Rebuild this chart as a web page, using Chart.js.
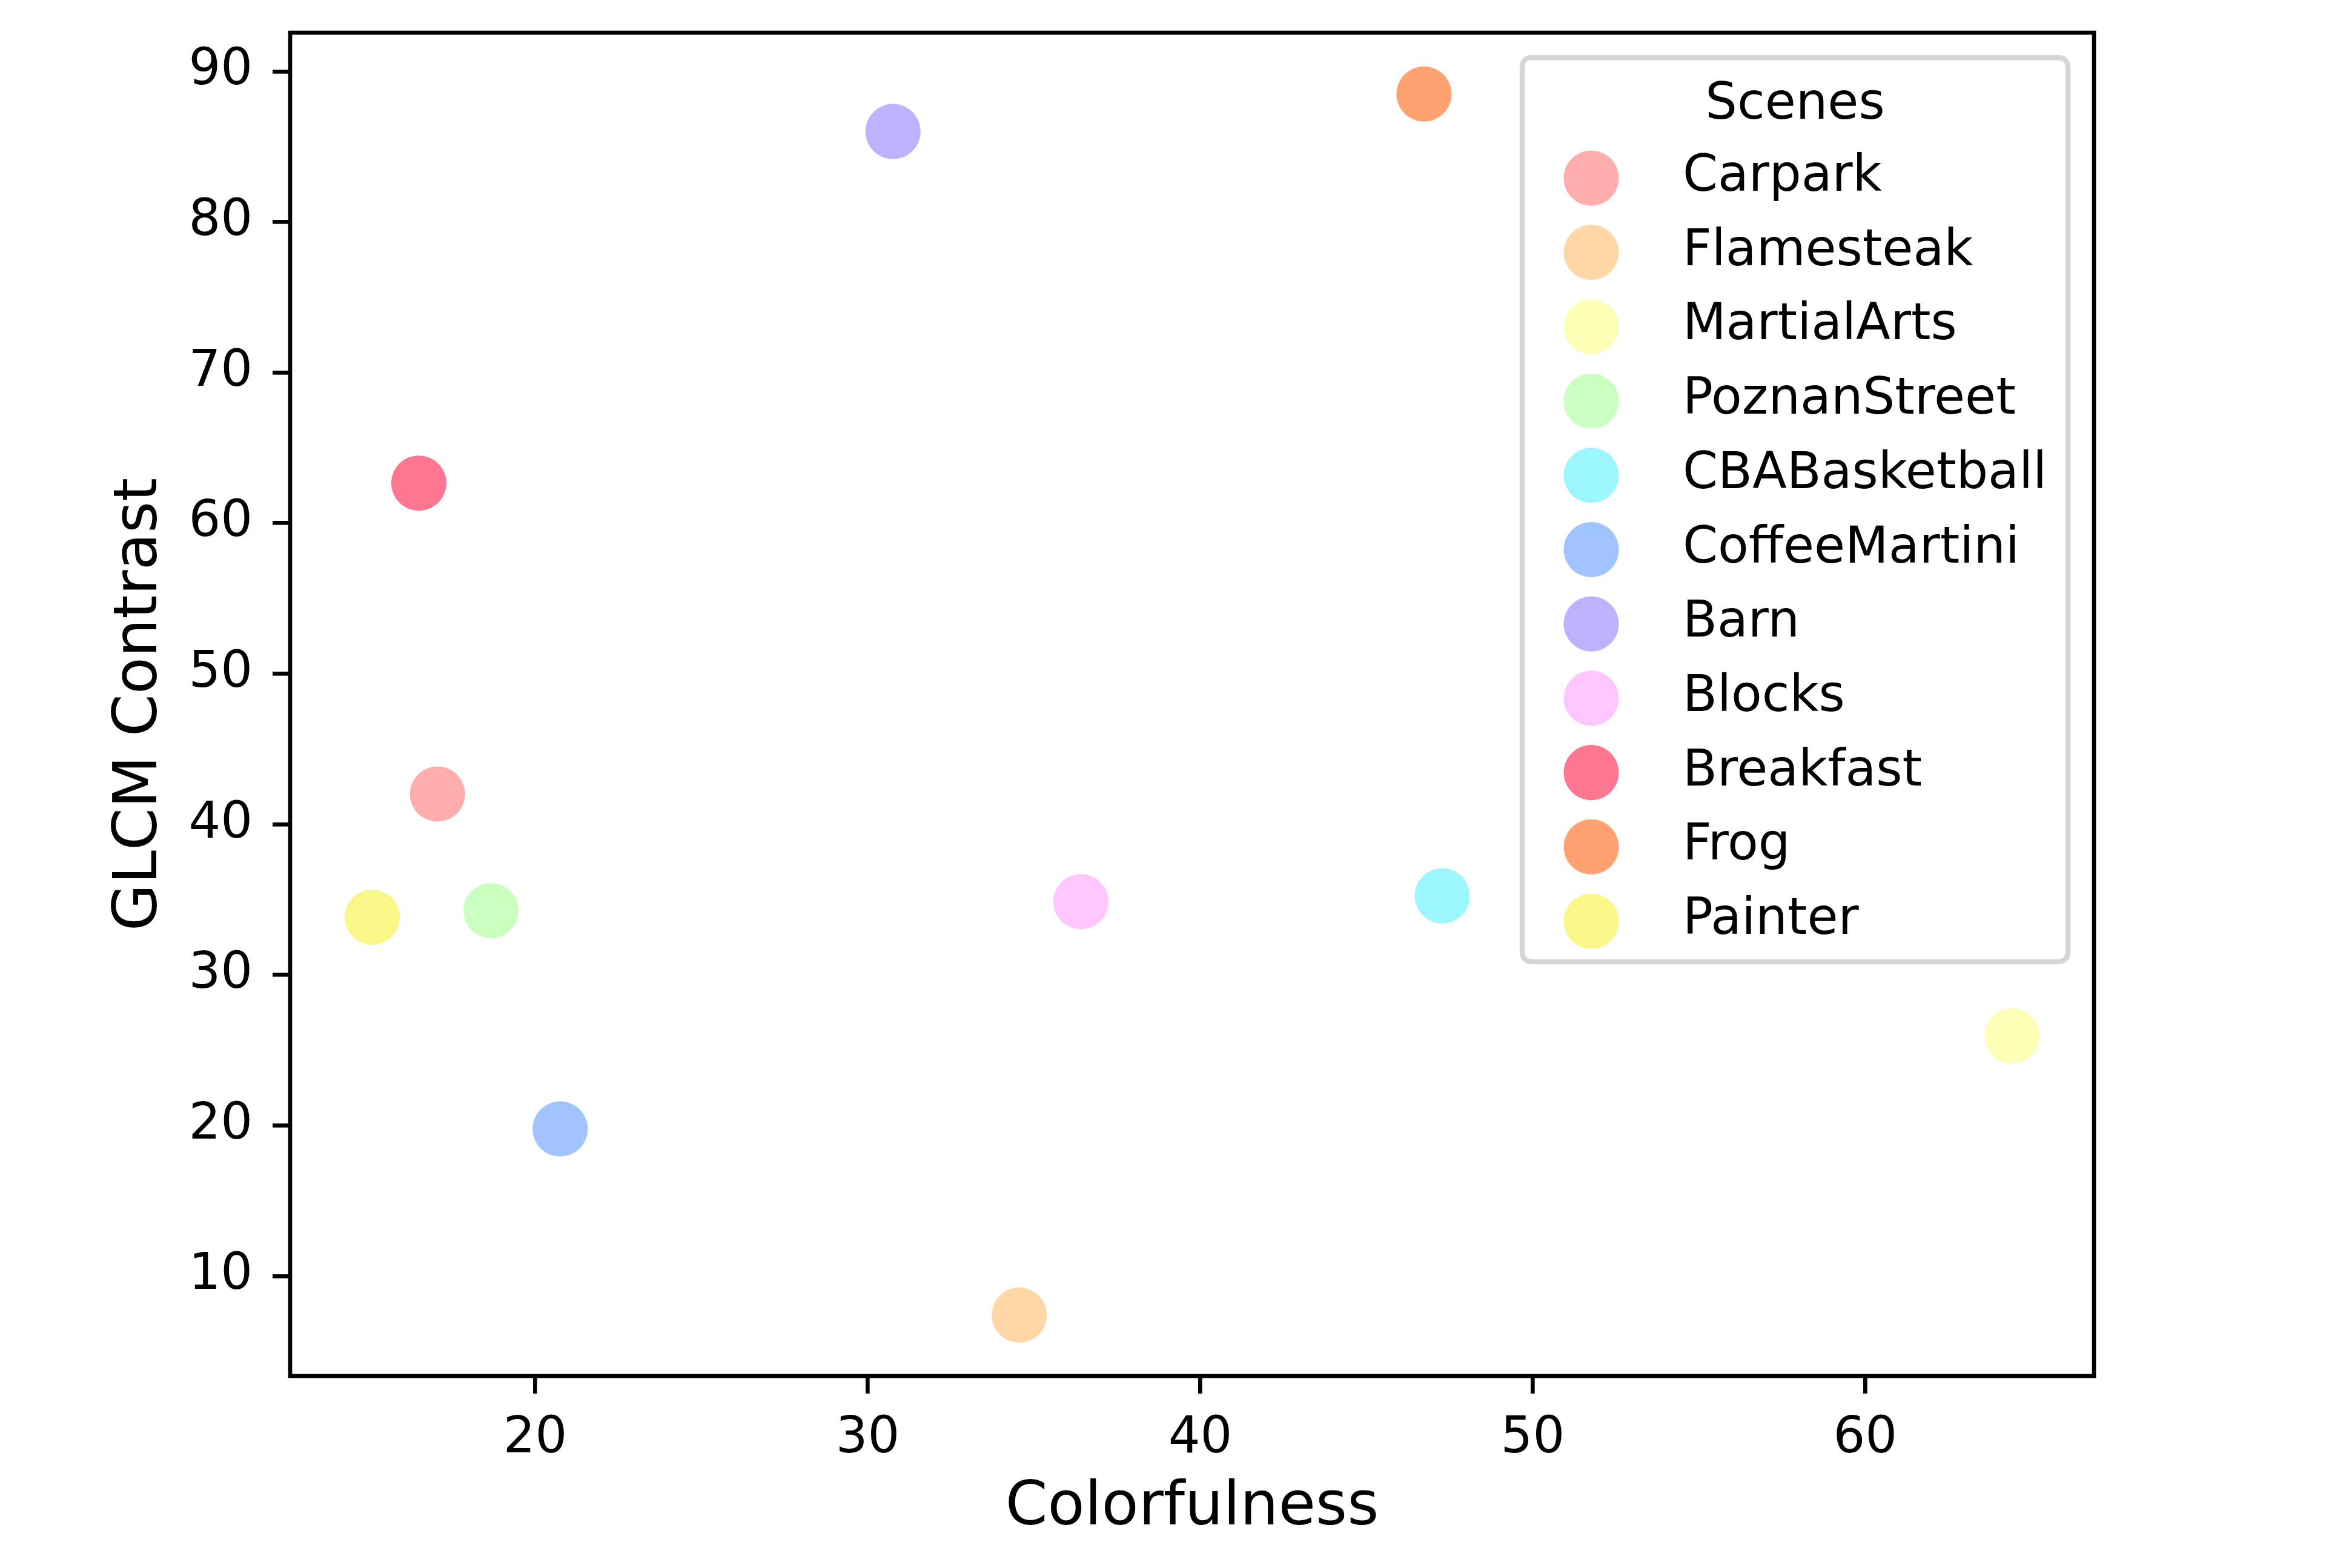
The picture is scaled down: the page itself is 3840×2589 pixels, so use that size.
<!DOCTYPE html>
<html>
<head>
<meta charset="utf-8">
<script src="https://cdn.jsdelivr.net/npm/chart.js@4.4.0/dist/chart.umd.min.js"></script>
<style>
  html, body { margin: 0; padding: 0; background: #ffffff; }
  #wrap { width: 3840px; height: 2589px; }
  canvas { display: block; }
</style>
</head>
<body>
<div id="wrap"><canvas id="c" width="3840" height="2589" style="width:3840px;height:2589px"></canvas></div>
<script>
// ---- data ----
const scenes = ["Carpark", "Flamesteak", "MartialArts", "PoznanStreet", "CBABasketball", "CoffeeMartini", "Barn", "Blocks", "Breakfast", "Frog", "Painter"];
const colorfulness = [17.06, 34.56, 64.42, 18.67, 47.28, 20.75, 30.76, 36.41, 16.50, 46.73, 15.10];
const glcmContrast = [42.01, 7.41, 25.95, 34.27, 35.25, 19.77, 86.01, 34.86, 62.66, 88.50, 33.83];
const sceneColors = ["#ffadad", "#ffd6a5", "#fdffb6", "#caffbf", "#9bf6ff", "#a0c4ff", "#bdb2ff", "#ffc6ff", "#ff7690", "#ffa170", "#f8f787"];
const xTicks = [20, 30, 40, 50, 60];
const yTicks = [10, 20, 30, 40, 50, 60, 70, 80, 90];
const xLabel = "Colorfulness";
const yLabel = "GLCM Contrast";
const legendTitle = "Scenes";

const FONT = "'DejaVu Sans', 'Liberation Sans', sans-serif";
Chart.defaults.font.family = FONT;
Chart.defaults.color = "#000000";

const LW = 6.67;

const datasets = scenes.map((s, i) => ({
  label: s,
  data: [{ x: colorfulness[i], y: glcmContrast[i] }],
  backgroundColor: sceneColors[i],
  borderWidth: 0,
  pointRadius: 45.5,
  pointHoverRadius: 45.5
}));

const framePlugin = {
  id: "frame",
  afterDatasetsDraw(chart) {
    const { ctx, chartArea: a } = chart;
    ctx.save();
    ctx.strokeStyle = "#000000";
    ctx.lineWidth = LW;
    ctx.strokeRect(a.left, a.top, a.right - a.left, a.bottom - a.top);
    ctx.restore();
  }
};

const legendPlugin = {
  id: "sceneLegend",
  afterDraw(chart) {
    const ctx = chart.ctx;
    const bx = 2513, by = 95, bw = 901, bh = 1493, r = 17;
    ctx.save();
    ctx.beginPath();
    ctx.moveTo(bx + r, by);
    ctx.lineTo(bx + bw - r, by);
    ctx.quadraticCurveTo(bx + bw, by, bx + bw, by + r);
    ctx.lineTo(bx + bw, by + bh - r);
    ctx.quadraticCurveTo(bx + bw, by + bh, bx + bw - r, by + bh);
    ctx.lineTo(bx + r, by + bh);
    ctx.quadraticCurveTo(bx, by + bh, bx, by + bh - r);
    ctx.lineTo(bx, by + r);
    ctx.quadraticCurveTo(bx, by, bx + r, by);
    ctx.closePath();
    ctx.fillStyle = "rgba(255,255,255,0.8)";
    ctx.fill();
    ctx.strokeStyle = "#d6d6d6";
    ctx.lineWidth = 8.33;
    ctx.stroke();

    ctx.fillStyle = "#000000";
    ctx.font = "83px " + FONT;
    ctx.textAlign = "center";
    ctx.textBaseline = "alphabetic";
    ctx.fillText(legendTitle, bx + bw / 2, 196);

    ctx.textAlign = "left";
    chart.data.datasets.forEach((ds, i) => {
      const cy = 294 + i * 122.7;
      ctx.beginPath();
      ctx.arc(2627, cy, 45.5, 0, Math.PI * 2);
      ctx.fillStyle = ds.backgroundColor;
      ctx.fill();
      ctx.fillStyle = "#000000";
      ctx.fillText(ds.label, 2778, cy + 21);
    });
    ctx.restore();
  }
};

new Chart(document.getElementById("c"), {
  type: "scatter",
  data: { datasets },
  options: {
    responsive: false,
    animation: false,
    devicePixelRatio: 1,
    layout: { padding: { top: 54, right: 383, left: 0, bottom: 0 } },
    plugins: { legend: { display: false }, tooltip: { enabled: false } },
    scales: {
      x: {
        type: "linear",
        position: "bottom",
        min: 12.63,
        max: 66.88,
        afterBuildTicks: s => { s.ticks = xTicks.map(v => ({ value: v })); },
        afterFit: s => { s.height = 317; s.paddingLeft = 0; s.paddingRight = 0; },
        ticks: { font: { size: 83 }, color: "#000000", padding: 26, maxRotation: 0, autoSkip: false, callback: v => String(v) },
        grid: { display: true, drawOnChartArea: false, drawTicks: true, tickLength: 29, tickWidth: LW, lineWidth: LW, color: "#000000" },
        border: { display: false },
        title: { display: true, text: xLabel, font: { size: 100 }, color: "#000000", padding: { top: 0, bottom: 38 } }
      },
      y: {
        type: "linear",
        position: "left",
        min: 3.36,
        max: 92.57,
        afterBuildTicks: s => { s.ticks = yTicks.map(v => ({ value: v })); },
        afterFit: s => { s.width = 479; s.paddingTop = 0; s.paddingBottom = 0; },
        ticks: { font: { size: 83 }, color: "#000000", padding: 33, autoSkip: false, callback: v => String(v) },
        grid: { display: true, drawOnChartArea: false, drawTicks: true, tickLength: 29, tickWidth: LW, lineWidth: LW, color: "#000000" },
        border: { display: false },
        title: { display: true, text: yLabel, font: { size: 100 }, color: "#000000", padding: { top: 172, bottom: 0 } }
      }
    }
  },
  plugins: [framePlugin, legendPlugin]
});
</script>
</body>
</html>
